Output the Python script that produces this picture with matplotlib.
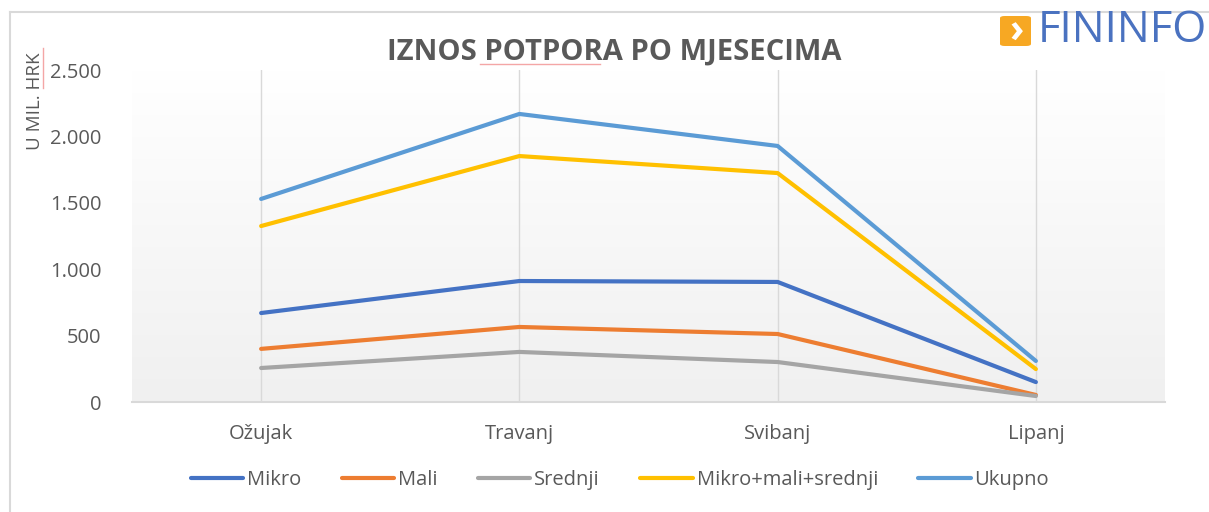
import numpy as np
import matplotlib.pyplot as plt
from matplotlib.patches import FancyBboxPatch
from matplotlib.colors import LinearSegmentedColormap

plt.rcParams['font.family'] = ['Open Sans', 'DejaVu Sans']

# podaci (u mil. HRK)
mjeseci = ['Ožujak', 'Travanj', 'Svibanj', 'Lipanj']
mikro = [670, 911, 904, 150]
mali = [400, 565, 512, 53]
srednji = [256, 377, 301, 45]
mikro_mali_srednji = [1325, 1852, 1724, 248]
ukupno = [1529, 2169, 1928, 309]

serije = [
    ('Mikro', mikro, '#4472c4'),
    ('Mali', mali, '#ed7d31'),
    ('Srednji', srednji, '#a5a5a5'),
    ('Mikro+mali+srednji', mikro_mali_srednji, '#ffc000'),
    ('Ukupno', ukupno, '#5b9bd5'),
]

fig = plt.figure(figsize=(12.09, 5.12), dpi=100)
ax = fig.add_axes([132 / 1209, 1 - 402 / 512, (1165 - 132) / 1209, (402 - 70) / 512])

x = np.arange(len(mjeseci))

# pozadina s gradijentom (bijelo gore, sivo dolje)
cmap = LinearSegmentedColormap.from_list('g', ['#ffffff', '#f0f0f0'])
grad = np.linspace(0, 1, 256).reshape(-1, 1)
ax.imshow(grad, aspect='auto', cmap=cmap, extent=(-0.5, 3.5, 0, 2500), origin='upper', zorder=0)
ax.set_xlim(-0.5, len(mjeseci) - 0.5)
ax.set_ylim(0, 2500)

for xi in x:
    ax.axvline(xi, color='#d9d9d9', lw=1, zorder=1)

linije = []
for naziv, vals, boja in serije:
    l, = ax.plot(x, vals, color=boja, lw=3, solid_capstyle='round', zorder=3, label=naziv)
    linije.append(l)

for s in ['top', 'right', 'left']:
    ax.spines[s].set_visible(False)
ax.spines['bottom'].set_color('#d9d9d9')
ax.spines['bottom'].set_linewidth(1.5)

ax.set_xticks(x)
ax.set_xticklabels(mjeseci, fontsize=14.5, color='#595959')
ax.set_yticks([0, 500, 1000, 1500, 2000, 2500])
ax.set_yticklabels(['0', '500', '1.000', '1.500', '2.000', '2.500'], fontsize=14.5, color='#595959')
ax.tick_params(length=0, axis='y', pad=22)
ax.tick_params(length=0, axis='x', pad=16)

fig.text(614 / 1209, 1 - 52 / 512, 'IZNOS POTPORA PO MJESECIMA', ha='center', va='center',
         fontsize=21, fontweight='bold', color='#595959')
fig.text(35 / 1209, 1 - 101 / 512, 'U MIL. HRK', rotation=90, ha='center', va='center',
         fontsize=13.5, color='#595959')

# crvene oznake pravopisa kao na slici
fig.add_artist(plt.Line2D([480 / 1209, 600 / 1209], [1 - 64 / 512, 1 - 64 / 512],
                          transform=fig.transFigure, color='#f4a6a6', lw=1))
fig.add_artist(plt.Line2D([43 / 1209, 43 / 1209], [1 - 48 / 512, 1 - 88 / 512],
                          transform=fig.transFigure, color='#f4a6a6', lw=1))

fig.legend(handles=linije, loc='center', bbox_to_anchor=(620 / 1209, 1 - 480 / 512), ncol=5,
           frameon=False, fontsize=14.5, handlelength=2.6, columnspacing=2.0, handletextpad=0.2,
           labelcolor='#595959')

# okvir
fig.add_artist(plt.Line2D([10 / 1209, 10 / 1209], [0, 1 - 12 / 512], transform=fig.transFigure,
                          color='#d9d9d9', lw=1.5))
fig.add_artist(plt.Line2D([10 / 1209, 1], [1 - 12 / 512, 1 - 12 / 512], transform=fig.transFigure,
                          color='#d9d9d9', lw=1.5))

# logo
logo = FancyBboxPatch((1000 / 1209, 1 - 46 / 512), 31 / 1209, 30 / 512,
                      boxstyle='round,pad=0,rounding_size=0.004', transform=fig.transFigure,
                      facecolor='#f7a823', edgecolor='none')
fig.add_artist(logo)
fig.text(1017 / 1209, 1 - 32 / 512, '›', ha='center', va='center', fontsize=28,
         fontweight='bold', color='white')
fig.text(1038 / 1209, 1 - 31 / 512, 'FININFO', ha='left', va='center', fontsize=31.5,
         color='#4a72c0')

fig.savefig('out.png', dpi=100)
